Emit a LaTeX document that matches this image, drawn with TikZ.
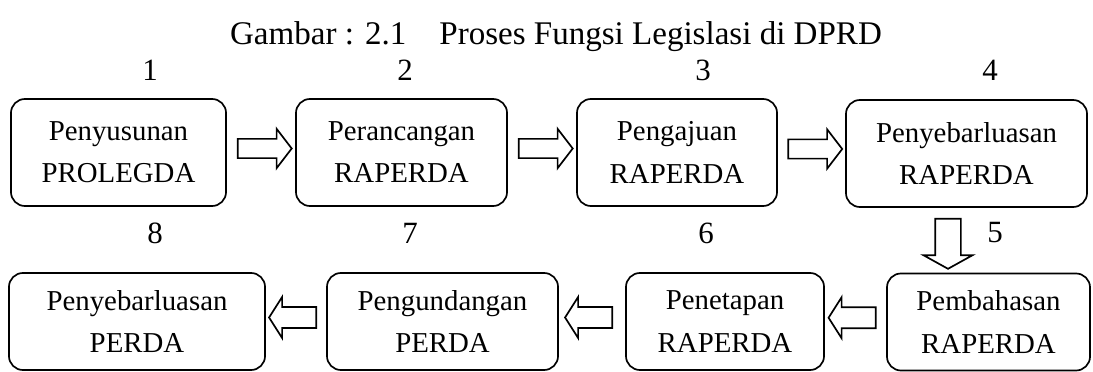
\documentclass[tikz,border=0pt]{standalone}
\usepackage{fontspec}
\setmainfont{Liberation Serif}
\usetikzlibrary{shapes.arrows,calc}
\tikzset{
  stage/.style={draw, rounded corners=0.35cm, line width=1.2pt, align=center, inner sep=0pt,
    font=\fontsize{20.5}{30}\selectfont},
  blockarrow/.style={single arrow, draw, line width=1.2pt, inner xsep=0pt, inner ysep=0.22cm,
    single arrow head extend=0.25cm, single arrow tip angle=105, minimum height=1.35cm},
  num/.style={font=\fontsize{22}{22}\selectfont}
}
\begin{document}
\begin{tikzpicture}[x=0.025cm,y=-0.025cm]
\useasboundingbox (0,0) rectangle (1093,372);
\node[num, font=\fontsize{23.5}{23.5}\selectfont] (title) at (556,37) {Gambar : 2.1\hspace{1em}Proses Fungsi Legislasi di DPRD};
% upper row
\node[stage, minimum width=5.375cm, minimum height=2.675cm] (b1) at (118.5,152.5) {Penyusunan\\PROLEGDA};
\node[stage, minimum width=5.275cm, minimum height=2.675cm] (b2) at (401.5,152.5) {Perancangan\\RAPERDA};
\node[stage, minimum width=5.0cm, minimum height=2.675cm] (b3) at (677,152.5) {Pengajuan\\RAPERDA};
\node[stage, minimum width=6.025cm, minimum height=2.675cm] (b4) at (966.5,153.5) {Penyebarluasan\\RAPERDA};
% lower row
\node[stage, minimum width=6.4cm, minimum height=2.425cm] (b8) at (137,321.5) {Penyebarluasan\\PERDA};
\node[stage, minimum width=5.775cm, minimum height=2.425cm] (b7) at (442.5,321.5) {Pengundangan\\PERDA};
\node[stage, minimum width=4.95cm, minimum height=2.425cm] (b6) at (725,321.5) {Penetapan\\RAPERDA};
\node[stage, minimum width=5.075cm, minimum height=2.425cm] (b5) at (988.5,322) {Pembahasan\\RAPERDA};
% arrows
\node[blockarrow] (a12) at ($(b1.east)!0.5!(b2.west)+(0,-4)$) {};
\node[blockarrow] (a23) at ($(b2.east)!0.5!(b3.west)+(0,-4)$) {};
\node[blockarrow] (a34) at ($(b3.east)!0.5!(b4.west)+(0,-4)$) {};
\node[blockarrow, rotate=-90, minimum height=1.25cm, inner ysep=0.3cm,
  single arrow head extend=0.29cm, single arrow tip angle=122] (a45) at ($(b4.south)!0.5!(b5.north)+(-29.5,0)$) {};
\node[blockarrow, shape border rotate=180, minimum height=1.18cm, inner ysep=0.24cm,
  single arrow tip angle=115] (a56) at ($(b6.east)!0.5!(b5.west)+(0,-4)$) {};
\node[blockarrow, shape border rotate=180, minimum height=1.18cm, inner ysep=0.24cm,
  single arrow tip angle=115] (a67) at ($(b7.east)!0.5!(b6.west)+(0,-4)$) {};
\node[blockarrow, shape border rotate=180, minimum height=1.18cm, inner ysep=0.24cm,
  single arrow tip angle=115] (a78) at ($(b8.east)!0.5!(b7.west)+(0,-4)$) {};
% step numbers
\foreach \n/\x/\y in {1/150/70,2/405/70,3/703/70,4/990/70,5/995/233,6/706/233,7/410/233,8/155/233}
  {\node[num] (n\n) at (\x,\y) {\n};}
\end{tikzpicture}
\end{document}
